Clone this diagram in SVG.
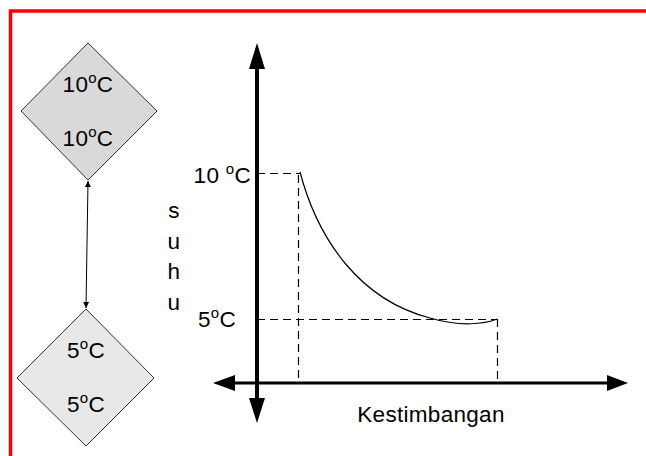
<svg xmlns="http://www.w3.org/2000/svg" width="646" height="456" viewBox="0 0 646 456">
<defs>
<style>
text{font-family:"Liberation Sans",Arial,sans-serif;fill:#000}
.t{font-size:22.5px;letter-spacing:0.3px}
.d{fill:none;stroke:#000;stroke-width:1.2;stroke-dasharray:8,5}
</style>
<marker id="sa" viewBox="0 0 10 10" refX="10" refY="5" markerWidth="6" markerHeight="9" orient="auto-start-reverse" markerUnits="userSpaceOnUse"><path d="M0,0L10,5L0,10Z" fill="#000"/></marker>
</defs>
<rect width="646" height="456" fill="#fff"/>
<path d="M10.5,456V11H646" fill="none" stroke="#f00" stroke-width="3.5"/>
<g id="node-top">
<polygon points="88,43 157,111 88,180 21,111" fill="#d9d9d9" stroke="#333" stroke-width="1"/>
<text class="t" x="88" y="92" text-anchor="middle">10<tspan font-size="15" dy="-9">o</tspan><tspan dy="9">C</tspan></text>
<text class="t" x="88" y="146" text-anchor="middle">10<tspan font-size="15" dy="-9">o</tspan><tspan dy="9">C</tspan></text>
</g>
<g id="node-bottom">
<polygon points="86,309 154,378 86,446 17,378" fill="#e8e8e8" stroke="#333" stroke-width="1"/>
<text class="t" x="86" y="358" text-anchor="middle">5<tspan font-size="15" dy="-9">o</tspan><tspan dy="9">C</tspan></text>
<text class="t" x="86" y="412" text-anchor="middle">5<tspan font-size="15" dy="-9">o</tspan><tspan dy="9">C</tspan></text>
</g>
<g id="connectors">
<line x1="88" y1="181" x2="86" y2="308" stroke="#000" stroke-width="1" marker-start="url(#sa)" marker-end="url(#sa)"/>
</g>
<g id="graph">
<line x1="257" y1="62" x2="257" y2="404" stroke="#000" stroke-width="4"/>
<polygon points="257,43 265,69 249,69" fill="#000"/>
<polygon points="257,423 265,398 249,398" fill="#000"/>
<line x1="230" y1="383" x2="612" y2="383" stroke="#000" stroke-width="3"/>
<polygon points="213,383 235,375 235,391" fill="#000"/>
<polygon points="628,383 607,375 607,391" fill="#000"/>
<path class="d" d="M257,173.5H300M298.5,175V380M257,319.5H497M497.5,319V380"/>
<path d="M300,172C318,240 360,300 430,318C460,327 485,324 497,319" fill="none" stroke="#000" stroke-width="1.2"/>
<text class="t" x="251" y="183" text-anchor="end">10 <tspan font-size="15" dy="-9">o</tspan><tspan dy="9">C</tspan></text>
<text class="t" x="236" y="327" text-anchor="end">5<tspan font-size="15" dy="-9">o</tspan><tspan dy="9">C</tspan></text>
<text class="t" x="174" y="218" text-anchor="middle">s</text>
<text class="t" x="174" y="249" text-anchor="middle">u</text>
<text class="t" x="174" y="279" text-anchor="middle">h</text>
<text class="t" x="174" y="310" text-anchor="middle">u</text>
<text class="t" x="431" y="422" text-anchor="middle">Kestimbangan</text>
</g>
</svg>
